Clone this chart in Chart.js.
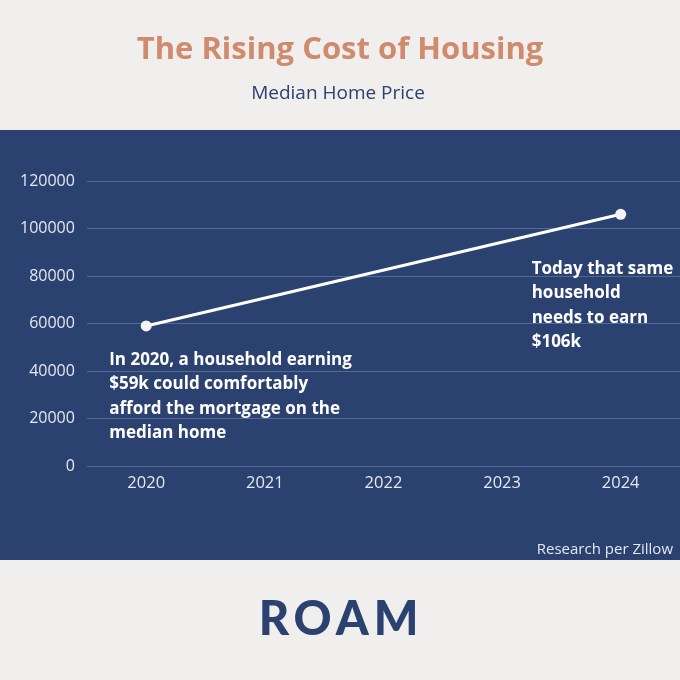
<!DOCTYPE html>
<html>
<head>
<meta charset="utf-8">
<style>
  html, body { margin: 0; padding: 0; background: #f1efed; }
  #wrap { width: 680px; height: 680px; position: relative; }
</style>
<script src="https://cdn.jsdelivr.net/npm/chart.js@4.4.1/dist/chart.umd.min.js"></script>
</head>
<body>
<div id="wrap"><canvas id="c" width="680" height="680"></canvas></div>
<script>
const years = ['2020', '2021', '2022', '2023', '2024'];
const medianIncomeNeeded = [59000, null, null, null, 106000];
const yTicks = [0, 20000, 40000, 60000, 80000, 100000, 120000];
const titleText = 'The Rising Cost of Housing';
const subtitleText = 'Median Home Price';
const noteStart = ['In 2020, a household earning', '$59k could comfortably', 'afford the mortgage on the', 'median home'];
const noteEnd = ['Today that same', 'household', 'needs to earn', '$106k'];
const sourceText = 'Research per Zillow';
const brandText = 'ROAM';

const BG = '#f1efed';
const NAVY = '#2b4170';
const SALMON = '#d08b6e';
const FONT = '"Open Sans", "Noto Sans", sans-serif';

const decor = {
  id: 'decor',
  beforeDraw(chart) {
    const ctx = chart.ctx;
    ctx.save();
    ctx.fillStyle = BG;
    ctx.fillRect(0, 0, chart.width, chart.height);
    ctx.fillStyle = NAVY;
    ctx.fillRect(0, 130, chart.width, 430);
    ctx.textAlign = 'center';
    ctx.textBaseline = 'middle';
    ctx.fillStyle = SALMON;
    ctx.font = '700 31px ' + FONT;
    ctx.fillText(titleText, 340, 50);
    ctx.fillStyle = NAVY;
    ctx.font = '400 19px ' + FONT;
    ctx.fillText(subtitleText, 338, 94);
    ctx.font = '900 47px Lato, "DejaVu Sans", sans-serif';
    ctx.letterSpacing = '5px';
    ctx.fillText(brandText, 341, 620);
    ctx.letterSpacing = '0px';
    ctx.textAlign = 'right';
    ctx.fillStyle = '#e4e8f0';
    ctx.font = '400 15px ' + FONT;
    ctx.fillText(sourceText, 673, 550);
    ctx.restore();
  },
  afterDatasetsDraw(chart) {
    const ctx = chart.ctx;
    const x = chart.scales.x, y = chart.scales.y;
    ctx.save();
    ctx.fillStyle = '#ffffff';
    ctx.font = '700 17px ' + FONT;
    ctx.textAlign = 'left';
    ctx.textBaseline = 'middle';
    const p0x = x.getPixelForValue(0), p0y = y.getPixelForValue(medianIncomeNeeded[0]);
    noteStart.forEach((t, i) => ctx.fillText(t, p0x - 37, p0y + 34 + i * 24.5));
    const p4x = x.getPixelForValue(4), p4y = y.getPixelForValue(medianIncomeNeeded[4]);
    noteEnd.forEach((t, i) => ctx.fillText(t, p4x - 89, p4y + 55 + i * 24.3));
    ctx.restore();
  }
};

new Chart(document.getElementById('c'), {
  type: 'line',
  data: {
    labels: years,
    datasets: [{
      data: medianIncomeNeeded,
      spanGaps: true,
      borderColor: '#ffffff',
      backgroundColor: '#ffffff',
      borderWidth: 3,
      pointRadius: 5.5,
      pointBackgroundColor: '#f4f4f6',
      pointBorderWidth: 0,
      tension: 0,
      clip: false
    }]
  },
  options: {
    responsive: false,
    animation: false,
    layout: { autoPadding: false, padding: { top: 181, left: 8, right: 0, bottom: 180 } },
    plugins: { legend: { display: false }, tooltip: { enabled: false } },
    scales: {
      x: {
        offset: true,
        grid: { display: false, drawTicks: false },
        border: { display: false },
        ticks: { color: '#e4e8f0', font: { family: FONT, size: 16.5 }, padding: 7 }
      },
      y: {
        min: 0, max: 120000,
        afterBuildTicks(scale) { scale.ticks = yTicks.map(v => ({ value: v })); },
        grid: { color: 'rgba(160,180,220,0.35)', lineWidth: 1, drawTicks: false },
        border: { display: false },
        ticks: { color: '#e4e8f0', font: { family: FONT, size: 16 }, padding: 12, callback: v => String(v) }
      }
    }
  },
  plugins: [decor]
});
</script>
</body>
</html>
